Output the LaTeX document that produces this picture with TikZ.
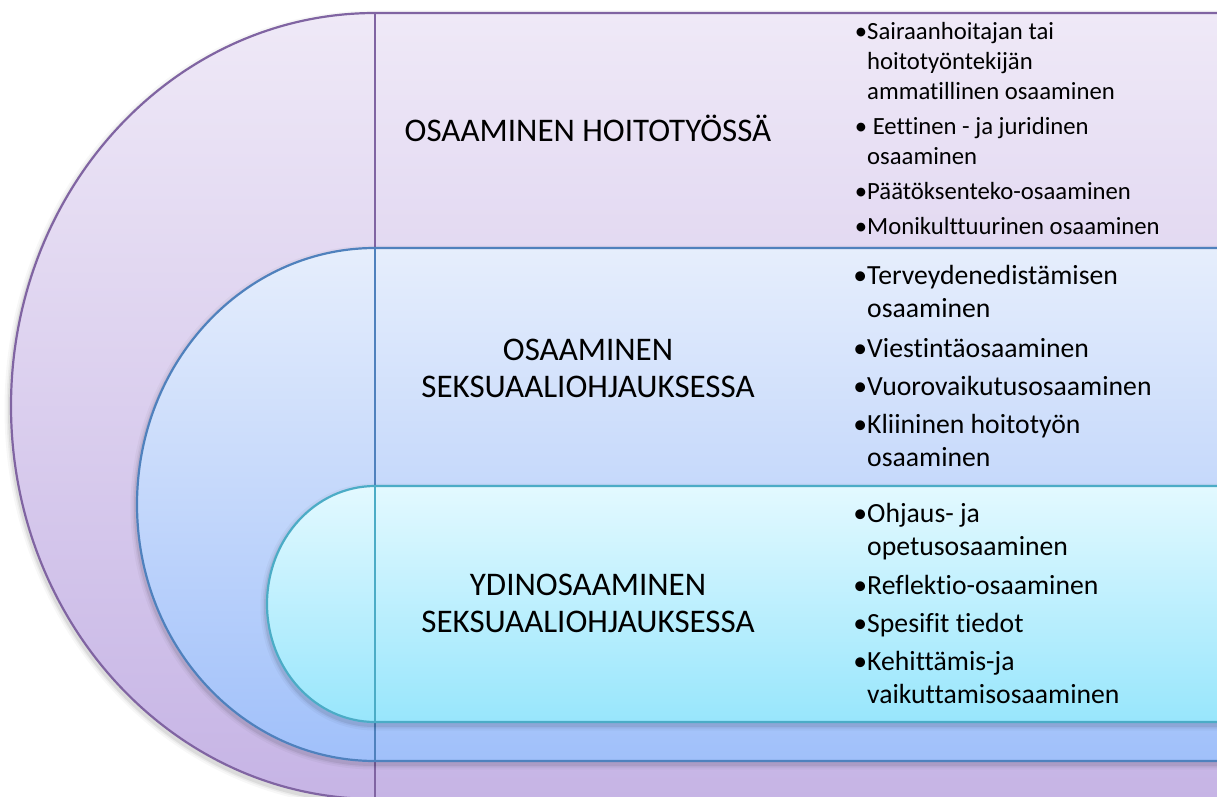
\documentclass[tikz,border=0pt]{standalone}
\usepackage{fontspec}
\setmainfont{Carlito}[Ligatures={NoCommon}]
\definecolor{plTop}{RGB}{239,233,247}
\definecolor{plBot}{RGB}{198,180,229}
\definecolor{plLine}{RGB}{128,100,162}
\definecolor{blTop}{RGB}{230,238,252}
\definecolor{blBot}{RGB}{160,192,250}
\definecolor{blLine}{RGB}{79,129,189}
\definecolor{cyTop}{RGB}{227,249,255}
\definecolor{cyBot}{RGB}{152,230,252}
\definecolor{cyLine}{RGB}{75,172,198}
% left half-ellipse joined to a band running off to the right
% #1 = centre y, #2 = x radius, #3 = y radius
\newcommand\levelpath[3]{(375,#1-#3) arc[start angle=270, end angle=90, x radius=#2, y radius=#3] -- (1240,#1+#3) -- (1240,#1-#3) -- cycle}
\newcommand\bl{\llap{•}}
\tikzset{
  lbl/.style={font=\fontsize{33}{37}\selectfont, text=black, inner sep=0pt, anchor=base},
  itmA/.style={font=\fontsize{24.7}{29.6}\selectfont, text=black, inner sep=0pt, anchor=base west},
  itmB/.style={font=\fontsize{27.7}{33.8}\selectfont, text=black, inner sep=0pt, anchor=base west},
  softshadow/.style={line width=#1, black, line join=round},
}
\newcommand\levelshadow[3]{%
  \draw[softshadow=11pt, opacity=0.03, shift={(-1,3)}] \levelpath{#1}{#2}{#3};
  \draw[softshadow=7pt, opacity=0.045, shift={(-1,3)}] \levelpath{#1}{#2}{#3};
  \draw[softshadow=4pt, opacity=0.07, shift={(-1,3)}] \levelpath{#1}{#2}{#3};
}
\begin{document}
\begin{tikzpicture}[x=1pt, y=-1pt]
\useasboundingbox (0,0) rectangle (1217,797);
\begin{scope}
  \clip (0,0) rectangle (1217,797);
  % outer level
  \levelshadow{406}{364}{393}
  \fill[top color=plTop, bottom color=plBot] \levelpath{406}{364}{393};
  \draw[plLine, line width=2.2pt] \levelpath{406}{364}{393};
  \draw[plLine, line width=2.2pt] (375,13) -- (375,800);
  % middle level
  \levelshadow{504.5}{238}{256.5}
  \fill[top color=blTop, bottom color=blBot] \levelpath{504.5}{238}{256.5};
  \draw[blLine, line width=2.2pt] \levelpath{504.5}{238}{256.5};
  \draw[blLine, line width=2.2pt] (375,248) -- (375,761);
  % inner level
  \levelshadow{604}{108}{118}
  \fill[top color=cyTop, bottom color=cyBot] \levelpath{604}{108}{118};
  \draw[cyLine, line width=2.2pt] \levelpath{604}{108}{118};
  \draw[cyLine, line width=2.2pt] (375,486) -- (375,722);
\end{scope}

% level titles
\node[lbl] (t1) at (588,142) {OSAAMINEN HOITOTYÖSSÄ};
\node[lbl] (t2) at (588,360) {\begin{tabular}[t]{@{}c@{}}OSAAMINEN\\SEKSUAALIOHJAUKSESSA\end{tabular}};
\node[lbl] (t3) at (588,595) {\begin{tabular}[t]{@{}c@{}}YDINOSAAMINEN\\SEKSUAALIOHJAUKSESSA\end{tabular}};

% outer level items
\node[itmA] (pa) at (867,40) {\vtop{\hbox{\bl Sairaanhoitajan tai}\hbox{hoitotyöntekijän}\hbox{ammatillinen osaaminen}}};
\node[itmA] (pb) at (867,134.5) {\vtop{\hbox{\bl\ Eettinen - ja juridinen}\hbox{osaaminen}}};
\node[itmA] (pc) at (867,199.4) {\bl Päätöksenteko-osaaminen};
\node[itmA] (pd) at (867,234.7) {\bl Monikulttuurinen osaaminen};

% middle level items
\node[itmB] (ba) at (867,284) {\vtop{\hbox{\bl Terveydenedistämisen}\hbox{osaaminen}}};
\node[itmB] (bb) at (867,357) {\bl Viestintäosaaminen};
\node[itmB] (bc) at (867,395) {\bl Vuorovaikutusosaaminen};
\node[itmB] (bd) at (867,433) {\vtop{\hbox{\bl Kliininen hoitotyön}\hbox{osaaminen}}};

% inner level items
\node[itmB] (ca) at (867,522) {\vtop{\hbox{\bl Ohjaus- ja}\hbox{opetusosaaminen}}};
\node[itmB] (cb) at (867,594) {\bl Reflektio-osaaminen};
\node[itmB] (cc) at (867,632) {\bl Spesifit tiedot};
\node[itmB] (cd) at (867,670) {\vtop{\hbox{\bl Kehittämis-ja}\hbox{vaikuttamisosaaminen}}};
\end{tikzpicture}
\end{document}
